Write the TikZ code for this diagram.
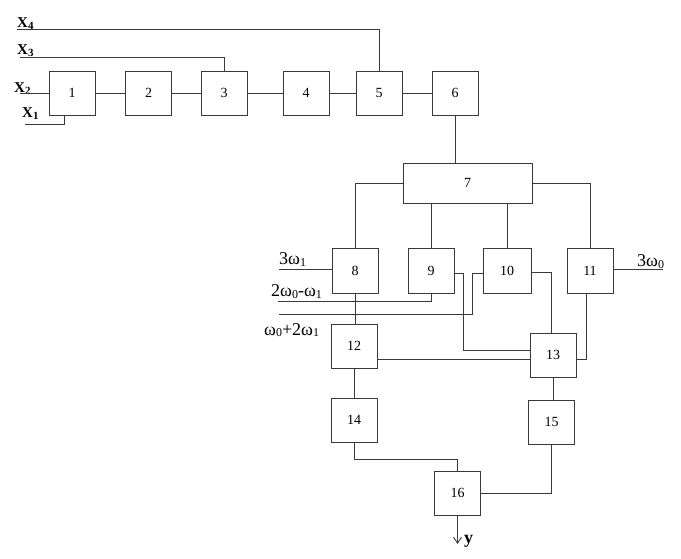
\documentclass[tikz,border=0pt]{standalone}
\usepackage{fontspec}
\setmainfont{Liberation Serif}
\usetikzlibrary{arrows.meta}
\definecolor{ink}{HTML}{3A3A3A}
\newcommand{\subd}[1]{\raisebox{-0.08em}{\fontsize{11}{11}\selectfont #1}}
\newcommand{\subw}[1]{\raisebox{-0.1em}{\fontsize{12}{12}\selectfont #1}}
\begin{document}
\begin{tikzpicture}[x=1pt,y=-1pt,
  blk/.style={draw=ink,line width=0.9pt,minimum width=46pt,minimum height=44pt,inner sep=0pt,font=\fontsize{14}{14}\selectfont},
  wire/.style={draw=ink,line width=0.9pt},
  lbl/.style={inner sep=0pt,anchor=base west,font=\fontsize{18}{18}\selectfont},
  xlbl/.style={inner sep=0pt,anchor=base west,font=\bfseries\fontsize{15}{15}\selectfont}]
\useasboundingbox (0,0) rectangle (681,559);
% blocks
\node[blk] (b1) at (72,93) {1};
\node[blk] (b2) at (148.5,93) {2};
\node[blk] (b3) at (224,93) {3};
\node[blk] (b4) at (306,93) {4};
\node[blk] (b5) at (379,93) {5};
\node[blk] (b6) at (455,93) {6};
\node[blk,minimum width=129pt,minimum height=40pt] (b7) at (467.5,183) {7};
\node[blk,minimum height=45pt] (b8) at (355,270.5) {8};
\node[blk,minimum height=45pt] (b9) at (431,270.5) {9};
\node[blk,minimum width=48pt,minimum height=45pt] (b10) at (507,270.5) {10};
\node[blk,minimum height=45pt] (b11) at (590,270.5) {11};
\node[blk] (b12) at (354,346) {12};
\node[blk] (b13) at (553,355) {13};
\node[blk] (b14) at (354,420) {14};
\node[blk] (b15) at (551.5,422) {15};
\node[blk] (b16) at (457.5,493) {16};
% input coordinates
\coordinate (x4) at (17,29);
\coordinate (x3) at (20,57);
\coordinate (x2) at (20,93);
\coordinate (x1) at (25,124);
\coordinate (w1) at (279,269);
\coordinate (w2) at (278,301);
\coordinate (w3) at (279,314);
\coordinate (w3a) at (472,314);
\coordinate (w3b) at (472,273);
\coordinate (w0) at (663,269);
\coordinate (n9) at (463,273);
\coordinate (j16) at (457.5,459);
\coordinate (yout) at (457.5,544);
% labels
\node[xlbl] (lx4) at (17,28) {X\subd{4}};
\node[xlbl] (lx3) at (17,55) {X\subd{3}};
\node[xlbl] (lx2) at (14,93) {X\subd{2}};
\node[xlbl] (lx1) at (22,118) {X\subd{1}};
\node[lbl] (l3w1) at (279,265) {3ω\subw{1}};
\node[lbl] (l2w0) at (271,297) {2ω\subw{0}-ω\subw{1}};
\node[lbl] (lw0) at (264,335) {ω\subw{0}+2ω\subw{1}};
\node[lbl] (l3w0) at (637,267) {3ω\subw{0}};
\node[lbl,font=\bfseries\fontsize{18}{18}\selectfont] (ly) at (464,543) {y};
% top chain
\draw[wire] (b1) -- (b2);
\draw[wire] (b2) -- (b3);
\draw[wire] (b3) -- (b4);
\draw[wire] (b4) -- (b5);
\draw[wire] (b5) -- (b6);
\draw[wire] (x4) -| (b5.north);
\draw[wire] (x3) -| (b3.north);
\draw[wire] (x2) -- (b1.west);
\draw[wire] (x1) -| ([xshift=-8pt]b1.south);
% to block 7
\draw[wire] (b6.south) -- (b6.south |- b7.north);
\draw[wire] (b7.west) -| (b8.north);
\draw[wire] (b7.south -| b9.north) -- (b9.north);
\draw[wire] (b7.south -| b10.north) -- (b10.north);
\draw[wire] (b7.east) -| (b11.north);
% inputs to 8-11
\draw[wire] (w1) -- (b8.west |- w1);
\draw[wire] (w2) -| (b9.south);
\draw[wire] (w3) -- (w3a) -- (w3b) -- (b10.west |- w3b);
\draw[wire] (b11.east |- w0) -- (w0);
% middle
\draw[wire] (b8.south) -- (b8.south |- b12.north);
\draw[wire] (b9.east |- n9) -- (n9) |- ([yshift=5pt]b13.west);
\draw[wire] ([yshift=-1.5pt]b10.east) -| ([xshift=-2pt]b13.north);
\draw[wire] ([xshift=-4pt]b11.south) |- ([yshift=-4pt]b13.east);
\draw[wire] ([yshift=-13pt]b12.east) -- ([yshift=-4pt]b13.west);
% bottom
\draw[wire] (b12.south) -- (b14.north);
\draw[wire] (b13.south) -- (b13.south |- b15.north);
\draw[wire] (b14.south) |- (j16) -- (b16.north);
\draw[wire] (b15.south) |- (b16.east);
\draw[wire,-{Straight Barb[length=6pt,width=8pt]}] (b16.south) -- (yout);
\end{tikzpicture}
\end{document}
